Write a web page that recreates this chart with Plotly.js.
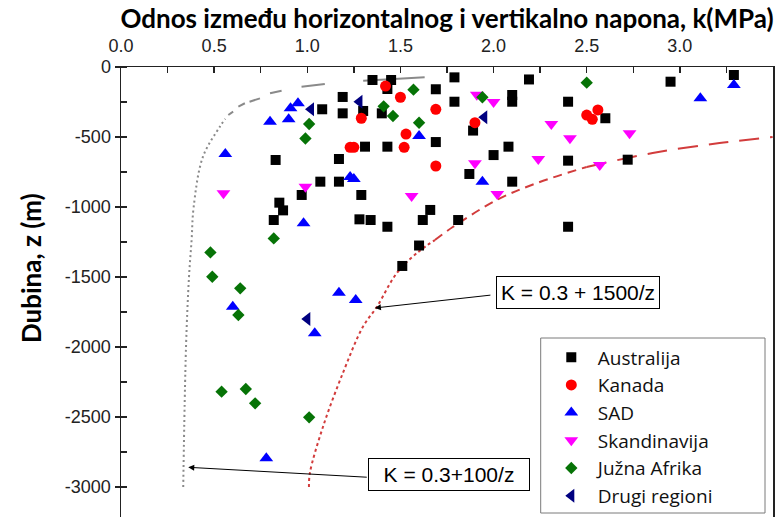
<!DOCTYPE html>
<html><head><meta charset="utf-8">
<script src="https://cdn.plot.ly/plotly-3.0.1.min.js"></script>
<style>html,body{margin:0;padding:0;background:#fff}#chart{width:783px;height:517px}</style>
</head><body><div id="chart"></div>
<script>
// ---- data ----
const seriesNames = ["Australija", "Kanada", "SAD", "Skandinavija", "Južna Afrika", "Drugi regioni"];

const ausK = [1.08, 1.35, 1.45, 1.43, 1.19, 1.19, 1.30, 1.40, 1.69, 1.79, 1.79, 1.69, 1.31, 1.43, 1.17, 2.00, 1.89, 2.19, 2.10, 2.10, 2.40, 2.95, 3.29, 2.60, 2.08, 2.40, 2.72, 1.87, 2.10, 1.66, 1.62, 1.81, 2.40, 1.60, 1.51, 1.17, 1.29, 1.28, 1.34, 1.43, 0.83, 1.07, 0.97, 0.85, 0.87, 0.82];
const ausZ = [-302, -93, -93, -157, -214, -331, -314, -331, -159, -74, -248, -536, -569, -569, -657, -629, -454, -89, -200, -248, -248, -105, -57, -366, -569, -669, -662, -764, -819, -1021, -1093, -1093, -1141, -1275, -1421, -819, -914, -1088, -1093, -1141, -664, -819, -914, -969, -1024, -1093];

const kanK = [1.42, 1.50, 1.29, 1.69, 1.53, 1.23, 1.25, 1.52, 1.69, 1.90, 2.50, 2.53, 2.56];
const kanZ = [-136, -216, -366, -302, -479, -574, -574, -574, -707, -398, -343, -374, -307];

const sadK = [0.56, 0.80, 0.90, 0.91, 0.95, 1.23, 1.25, 0.98, 1.60, 1.94, 3.11, 3.29, 0.60, 1.17, 1.26, 1.04, 0.78];
const sadZ = [-621, -391, -374, -295, -259, -786, -800, -1116, -493, -819, -224, -129, -1712, -1612, -1664, -1902, -2795];

const skaK = [0.55, 0.99, 1.56, 1.91, 2.00, 2.31, 2.41, 2.73, 1.90, 2.24, 2.57, 2.02];
const skaZ = [-902, -855, -921, -198, -250, -407, -509, -474, -688, -657, -700, -907];

const jafK = [1.57, 1.41, 1.46, 1.60, 1.01, 0.99, 0.82, 0.48, 0.49, 0.64, 0.63, 0.54, 0.67, 0.72, 1.01, 1.94, 2.50];
const jafZ = [-162, -281, -350, -398, -407, -511, -1224, -1324, -1498, -1581, -1771, -2319, -2300, -2402, -2502, -216, -112];

const drgK = [1.02, 1.28, 1.95, 1.00];
const drgZ = [-302, -248, -359, -1800];

// K = 0.3 + 100/z curve (as drawn in the picture)
const grayDotK = [0.334, 0.349, 0.365, 0.379, 0.39, 0.44, 0.531, 0.56];
const grayDotZ = [-3000, -2000, -1500, -1236, -1000, -640, -426, -370];
const grayDashK = [0.576, 0.602, null, 0.63, 0.665, null, 0.69, 0.746, null, 0.80, 0.862, null, 0.969, 1.094, null, 1.30, 1.63];
const grayDashZ = [-343, -319, null, -283, -259, null, -248, -224, null, -188, -169, null, -141, -121, null, -98, -74];

// K = 0.3 + 1500/z curve (as drawn in the picture)
const redK = [1.009, 1.014, 1.084, 1.191, 1.298, 1.373, 1.481, 1.588, 1.685, 1.781, 2.017, 2.232, 2.50, 2.854, 3.213, 3.498];
const redZ = [-3000, -2900, -2571, -2186, -1857, -1714, -1471, -1329, -1236, -1143, -950, -829, -714, -614, -543, -500];

const xTickVals = [0, 0.5, 1, 1.5, 2, 2.5, 3, 3.5];
const xTickText = ["0.0", "0.5", "1.0", "1.5", "2.0", "2.5", "3.0", "3.5"];
const yTickVals = [0, -500, -1000, -1500, -2000, -2500, -3000];
const yTickText = ["0", "-500", "-1000", "-1500", "-2000", "-2500", "-3000"];
const yMinorVals = [0, -250, -500, -750, -1000, -1250, -1500, -1750, -2000, -2250, -2500, -2750, -3000];

// ---- traces ----
const seg = (a, i, j) => a.slice(i, j + 1);
const traces = [
  {x: grayDotK, y: grayDotZ, mode: 'lines', line: {color: '#8a8a8a', width: 2, dash: '2px,3px', shape: 'spline'}, showlegend: false, hoverinfo: 'skip'},
  {x: grayDashK, y: grayDashZ, mode: 'lines', connectgaps: false, line: {color: '#8a8a8a', width: 2}, showlegend: false, hoverinfo: 'skip'},
  {x: seg(redK, 0, 8), y: seg(redZ, 0, 8), mode: 'lines', line: {color: '#d23c3c', width: 2, dash: '3px,3px', shape: 'spline'}, showlegend: false, hoverinfo: 'skip'},
  {x: seg(redK, 8, 12), y: seg(redZ, 8, 12), mode: 'lines', line: {color: '#d23c3c', width: 2, dash: '9px,6px', shape: 'spline'}, showlegend: false, hoverinfo: 'skip'},
  {x: seg(redK, 12, 15), y: seg(redZ, 12, 15), mode: 'lines', line: {color: '#d23c3c', width: 2, dash: '20px,11px', shape: 'spline'}, showlegend: false, hoverinfo: 'skip'}
];
const markerDefs = [
  [ausK, ausZ, 'square', '#000000', 10],
  [kanK, kanZ, 'circle', '#ff0000', 11],
  [sadK, sadZ, 'triangle-up', '#0000ff', 12],
  [skaK, skaZ, 'triangle-down', '#ff00ff', 12],
  [jafK, jafZ, 'diamond', '#067306', 9.5],
  [drgK, drgZ, 'triangle-left', '#000080', 12]
];
markerDefs.forEach((d, i) => {
  traces.push({x: d[0], y: d[1], name: seriesNames[i], mode: 'markers', type: 'scatter',
    marker: {symbol: d[2], color: d[3], size: d[4], line: {width: 0}}});
});

const tickFont = {family: 'Liberation Sans, Arial, sans-serif', size: 18, color: '#222'};
const titleFont = {family: 'Lato, Open Sans, sans-serif', size: 26, color: '#000', weight: 'bold'};

const layout = {
  width: 783, height: 517,
  margin: {l: 121, r: 10, t: 67, b: 0, pad: 0},
  paper_bgcolor: '#fff', plot_bgcolor: '#fff',
  showlegend: true,
  xaxis: {
    side: 'top', range: [0, 3.5], showgrid: false, zeroline: false,
    showline: true, linecolor: '#222', linewidth: 1.5,
    tickmode: 'array', tickvals: xTickVals, ticktext: xTickText,
    ticks: 'inside', ticklen: 6, tickwidth: 1.5, tickcolor: '#222',
    minor: {dtick: 0.25, tick0: 0, ticks: 'inside', ticklen: 6, tickwidth: 1.5, tickcolor: '#222'},
    tickfont: tickFont, ticklabelstandoff: 6,
    title: {text: 'Odnos između horizontalnog i vertikalno napona, k(MPa)', font: titleFont, standoff: 0}
  },
  yaxis: {
    range: [-3214, 0], showgrid: false, zeroline: false,
    showline: true, linecolor: '#222', linewidth: 1.5, mirror: true,
    tickmode: 'array', tickvals: yTickVals, ticktext: yTickText,
    ticks: 'outside', ticklen: 5, tickwidth: 1.5, tickcolor: '#222',
    minor: {tickvals: yMinorVals, ticks: 'inside', ticklen: 6, tickwidth: 1.5, tickcolor: '#222'},
    tickfont: tickFont
  },
  legend: {
    x: 0.650, y: 0.397, xanchor: 'left', yanchor: 'top',
    bgcolor: 'rgba(0,0,0,0)', borderwidth: 0,
    font: {family: 'Open Sans, sans-serif', size: 19, color: '#111'},
    itemwidth: 43, tracegroupgap: 0
  },
  shapes: [
    {type: 'rect', xref: 'paper', yref: 'paper', x0: (540.7 - 121) / 652, x1: (765 - 121) / 652, y0: (517 - 513) / 450, y1: (517 - 338) / 450,
     line: {color: '#7a7a7a', width: 1}, fillcolor: '#ffffff', layer: 'below'}
  ],
  annotations: [
    {xref: 'paper', yref: 'paper', x: -(121 - 31) / 652, y: (517 - 268) / 450, xanchor: 'center', yanchor: 'middle',
     text: 'Dubina, z (m)', textangle: -90, showarrow: false, font: titleFont},
    {xref: 'x', yref: 'y', x: 2.452, y: -1614, text: 'K = 0.3 + 1500/z', showarrow: false,
     font: {family: 'Liberation Sans, Arial, sans-serif', size: 21, color: '#000'},
     bordercolor: '#000', borderwidth: 1, borderpad: 4, bgcolor: '#fff'},
    {xref: 'x', yref: 'y', x: 1.363, y: -1721, text: '', showarrow: true, ax: 117, ay: -13,
     arrowhead: 2, arrowsize: 1.2, arrowwidth: 1, arrowcolor: '#000', standoff: 0},
    {xref: 'x', yref: 'y', x: 1.76, y: -2911, text: 'K = 0.3+100/z', showarrow: false, width: 152,
     font: {family: 'Liberation Sans, Arial, sans-serif', size: 21, color: '#000'},
     bordercolor: '#000', borderwidth: 1, borderpad: 4, bgcolor: '#fff'},
    {xref: 'x', yref: 'y', x: 0.361, y: -2859, text: '', showarrow: true, ax: 180, ay: 10,
     arrowhead: 2, arrowsize: 1.2, arrowwidth: 1, arrowcolor: '#000', standoff: 0}
  ]
};

Plotly.newPlot('chart', traces, layout, {displayModeBar: false, staticPlot: true});
</script>
</body></html>
